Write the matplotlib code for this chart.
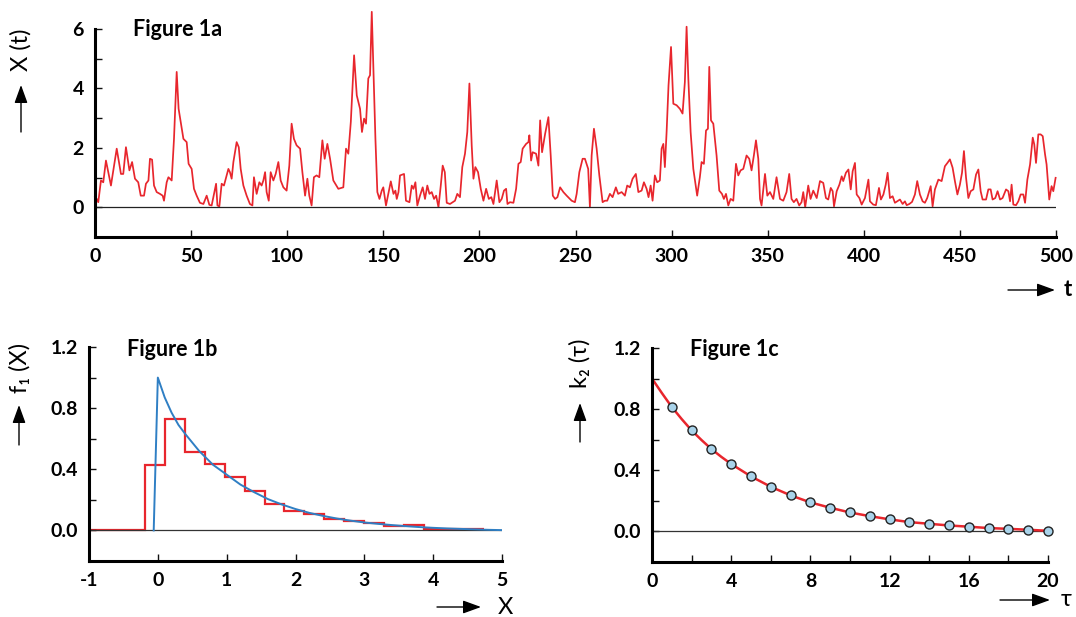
import matplotlib
import matplotlib.pyplot as plt
import numpy as np
from matplotlib.ticker import FormatStrFormatter, MultipleLocator

matplotlib.use("Agg")

W, H = 1076, 617
RED = "#e8262d"
BLUE = "#2f7fc4"
DOT_FILL = "#a9d3ea"

# Figure 1a: sample path X(t) as (t, X) points
SERIES_1A = [
    (0, 0.35), (0.9, 0.28), (1.7, 0.17), (3.1, 0.9), (4.3, 0.84), (5.7, 1.57), (6.9, 1.18), (8.3, 0.73),
    (11.3, 1.97), (13.5, 1.12), (14.7, 1.12), (16.1, 2.02), (17.9, 1.24), (19.3, 1.52), (20.8, 0.96),
    (22.5, 0.84), (23.8, 0.39), (25.5, 0.39), (26.5, 0.79), (27.8, 0.9), (28.6, 1.63), (29.7, 1.6),
    (30.7, 0.73), (32.1, 0.51), (33.8, 0.45), (35.2, 0.39), (35.9, 0.22), (37.3, 0.84), (38.2, 1.01),
    (39.9, 0.9), (41.1, 2.3), (42.5, 4.55), (43.5, 3.31), (44.6, 2.87), (46.0, 2.3), (47.7, 2.19),
    (48.7, 1.46), (50.3, 1.29), (51.5, 0.62), (52.9, 0.39), (54.6, 0.15), (56.4, 0.11), (58.1, 0.39),
    (59.5, 0.08), (60.7, 0.06), (63.0, 0.79), (63.7, 0.06), (64.7, 0.03), (65.9, 0.79), (67.1, 0.73),
    (69.4, 1.29), (70.2, 1.18), (71.1, 0.96), (72.0, 1.52), (73.7, 2.19), (74.8, 2.02), (75.8, 1.29),
    (77.2, 0.73), (78.9, 0.39), (80.6, 0.11), (81.9, 0.06), (82.7, 1.01), (84.1, 0.45), (85.5, 0.84),
    (86.7, 0.73), (87.6, 0.9), (88.5, 1.18), (89.3, 0.51), (90.4, 0.22), (91.4, 1.18), (92.8, 0.9),
    (94.0, 1.12), (95.4, 1.52), (96.6, 0.9), (98.0, 0.67), (99.7, 0.56), (101.1, 1.4), (102.3, 2.81),
    (103.5, 2.3), (104.9, 2.08), (106.7, 1.97), (107.9, 1.18), (109.3, 0.39), (110.5, 0.96),
    (111.5, 0.39), (112.7, 0.06), (113.9, 1.01), (115.3, 1.07), (116.7, 1.01), (118.3, 2.25),
    (119.5, 1.63), (120.9, 2.13), (122.3, 1.63), (124.0, 0.9),
    (126.6, 0.62), (129.2, 0.67), (130.6, 1.97), (131.8, 1.8), (133.1, 2.87), (134.8, 5.11),
    (136.2, 3.76), (137.9, 3.31), (138.9, 2.53), (140.0, 2.98), (141.0, 2.81), (142.2, 4.33),
    (143.1, 4.44), (144.0, 6.57), (144.8, 4.78), (145.9, 2.3), (146.9, 0.51), (148.0, 0.28),
    (149.2, 0.56), (150.0, 0.67), (151.4, 0.06), (152.6, 0.45), (153.9, 0.87), (155.3, 0.45),
    (156.3, 0.56), (157.0, 0.28), (157.9, 0.51), (158.7, 1.07), (160.8, 1.12), (161.8, 0.22),
    (163.6, 0.17), (164.8, 0.73), (165.7, 0.62), (166.7, 0.84), (167.7, 0.06), (169.1, 0.39),
    (170.5, 0.67), (171.7, 0.28), (172.9, 0.73), (174.0, 0.45), (175.2, 0.51), (176.4, 0.28),
    (177.5, 0.39), (178.7, 0.0), (179.9, 0.73), (180.9, 1.4), (182.0, 1.18), (183.0, 0.15),
    (184.7, 0.11), (186.1, 0.17), (187.3, 0.22), (188.5, 0.45), (189.9, 0.34), (191.1, 1.35),
    (192.5, 1.8), (193.7, 2.53), (194.8, 4.16), (196.0, 2.08), (196.9, 0.96), (197.9, 1.35),
    (199.3, 1.18), (200.7, 0.62), (202.1, 0.22), (203.5, 0.62), (204.9, 0.28), (206.2, 0.34),
    (207.3, 0.11), (209.0, 0.9), (210.4, 0.17), (211.6, 0.28), (212.8, 0.56), (213.9, 0.62),
    (214.6, 0.11), (215.9, 0.17), (217.7, 0.15), (219.1, 0.62), (220.3, 1.46), (221.5, 1.52),
    (222.5, 1.97), (224.3, 2.13), (225.5, 2.19), (226.0, 2.42), (226.9, 1.57), (227.7, 1.85),
    (229.5, 1.8), (230.7, 1.4), (231.6, 2.92), (232.6, 1.85), (234.2, 2.47), (235.9, 3.03),
    (237.1, 1.74), (238.2, 0.39), (239.4, 0.28), (240.6, 0.34), (242.0, 0.67), (243.7, 0.51),
    (245.4, 0.39), (246.8, 0.3), (248.0, 0.22),
    (249.7, 0.17), (250.6, 0.45), (252.0, 1.18), (253.7, 1.63), (254.9, 1.63), (256.6, 1.29),
    (257.5, 0.0), (258.4, 1.74), (259.6, 2.64), (261.0, 1.97), (262.4, 1.07), (264.1, 0.17),
    (265.3, 0.22), (266.5, 0.22), (267.9, 0.45), (269.3, 0.34), (271.0, 0.67), (272.2, 0.45),
    (274.0, 0.51), (275.7, 0.39), (276.9, 0.73), (278.3, 0.67), (279.7, 0.96), (281.4, 1.12),
    (282.7, 0.51), (284.4, 0.56), (285.6, 0.84), (287.0, 0.62), (288.0, 0.34), (289.1, 0.73),
    (290.1, 0.22), (291.3, 1.07), (292.5, 0.84), (293.9, 0.9), (294.8, 1.97), (295.7, 2.13),
    (296.5, 1.35), (297.4, 2.53), (298.4, 4.1), (299.7, 5.39), (300.9, 3.48), (302.6, 3.43),
    (304.3, 3.31), (305.7, 3.15), (306.9, 4.21), (307.8, 6.07), (308.7, 4.33), (309.9, 2.53),
    (311.3, 1.29), (313.3, 0.39), (314.7, 1.01), (315.6, 1.52), (316.8, 1.46), (317.9, 2.58),
    (318.9, 2.64), (319.6, 4.72), (320.5, 2.92), (321.7, 2.81), (323.4, 1.74), (324.8, 0.56),
    (326.2, 0.45), (327.2, 0.28), (328.3, 0.45), (329.5, 0.06), (330.7, 0.28), (332.1, 0.22),
    (333.5, 1.46), (334.7, 1.07), (335.9, 1.24), (337.3, 1.29), (339.0, 1.74), (340.4, 1.63),
    (341.6, 1.24), (342.8, 1.74), (343.9, 2.25), (345.1, 1.63), (346.0, 0.28), (346.8, 0.06),
    (348.6, 1.12), (349.8, 0.39), (351.2, 0.51), (352.9, 0.28), (354.6, 1.01), (356.4, 0.28),
    (358.1, 0.22), (359.8, 0.51), (361.2, 1.12), (362.4, 0.28), (363.6, 0.17), (365.0, 0.28),
    (366.4, 0.06), (367.6, 0.17), (368.5, 0.51), (369.5, 0.0), (371.1, 0.73), (372.3, 0.28),
    (373.7, 0.56),
    (375.5, 0.31), (377.2, 0.88), (378.9, 0.82), (380.3, 0.31), (381.5, 0.26), (382.8, 0.65),
    (383.8, 0.54), (384.5, 0.03), (385.9, 0.54), (387.3, 0.76), (388.5, 1.04), (389.3, 0.88),
    (390.7, 1.16), (392.0, 1.27), (393.2, 0.6), (394.2, 1.21), (395.4, 1.49), (396.3, 0.43),
    (397.7, 0.31), (398.9, 0.09), (400.6, 0.31), (402.4, 0.93), (403.2, 0.2), (404.9, 0.09),
    (406.3, 0.07), (407.9, 0.65), (408.9, 0.26), (410.2, 0.43), (411.4, 0.76), (412.4, 1.16),
    (413.6, 0.31), (415.0, 0.37), (416.2, 0.15), (417.4, 0.2), (418.8, 0.26), (420.2, 0.11),
    (421.4, 0.2), (422.3, 0.07), (423.7, 0.11), (425.1, 0.18), (426.6, 0.43), (427.8, 0.88),
    (429.2, 0.43), (430.6, 0.2), (431.8, 0.15), (433.0, 0.31), (434.8, 0.71), (435.8, 0.03),
    (437.0, 0.6), (438.8, 0.93), (440.5, 0.88), (442.2, 1.38), (443.5, 1.49), (444.8, 1.61),
    (446.2, 1.33), (447.4, 0.88), (448.7, 0.43), (450.0, 0.76), (451.1, 1.16), (452.1, 1.89),
    (453.2, 0.99), (454.4, 0.31), (455.6, 0.54), (457.0, 0.6), (458.4, 1.1), (459.6, 1.27),
    (460.8, 0.54), (461.8, 0.26), (463.6, 0.26), (464.8, 0.6), (466.0, 0.6), (467.0, 0.26),
    (468.4, 0.31), (469.6, 0.54), (470.9, 0.26), (472.2, 0.31), (474.0, 0.6), (475.2, 0.54),
    (476.1, 0.2), (476.9, 0.76), (477.8, 0.09), (479.2, 0.07), (480.4, 0.2), (481.6, 0.43),
    (483.0, 0.43), (483.9, 0.15), (485.1, 0.93), (486.5, 1.44), (487.9, 2.34), (488.7, 2.11),
    (489.6, 1.49), (490.8, 2.45), (492.0, 2.45), (493.1, 2.39), (494.3, 1.78), (495.1, 1.44),
    (496.5, 0.26), (497.7, 0.71), (498.6, 0.54), (499.8, 0.99),
]

# Figure 1b: histogram (bin edges, heights) and density curve
HIST_EDGES = [-1.0, -0.19, 0.10, 0.39, 0.68, 0.97, 1.26, 1.55, 1.84, 2.13, 2.42, 2.71,
              3.00, 3.29, 3.58, 3.87, 4.16, 4.45, 4.74]
HIST_HEIGHTS = [0.0, 0.425, 0.73, 0.51, 0.435, 0.35, 0.255, 0.175, 0.125, 0.105, 0.075,
                0.06, 0.05, 0.026, 0.035, 0.012, 0.01, 0.008]
DENSITY_X = [-0.06, 0.0, 0.1, 0.2, 0.3, 0.4, 0.6, 0.8, 1.0, 1.2, 1.4, 1.6, 1.8, 2.0, 2.2, 2.4,
             2.6, 2.8, 3.0, 3.2, 3.4, 3.6, 3.8, 4.0, 4.2, 4.4, 4.6, 4.8, 5.0]
DENSITY_Y = [0.0, 1.0, 0.87, 0.77, 0.69, 0.63, 0.52, 0.43, 0.365, 0.30, 0.25, 0.205, 0.17,
             0.14, 0.115, 0.095, 0.078, 0.064, 0.052, 0.043, 0.035, 0.028, 0.022, 0.017,
             0.013, 0.010, 0.007, 0.004, 0.002]

# Figure 1c: autocorrelation points and fitted curve
TAU_POINTS = list(range(1, 21))
K2_POINTS = [0.814, 0.661, 0.539, 0.441, 0.36, 0.292, 0.236, 0.19, 0.155, 0.124, 0.10,
             0.079, 0.061, 0.05, 0.039, 0.031, 0.022, 0.017, 0.011, 0.004]
TAU_CURVE = [0, 0.5, 1, 1.5, 2, 2.5, 3, 3.5, 4, 5, 6, 7, 8, 9, 10, 11, 12, 13, 14, 15, 16,
             17, 18, 19, 20]
K2_CURVE = [1.0, 0.905, 0.814, 0.735, 0.661, 0.598, 0.539, 0.488, 0.441, 0.36, 0.292, 0.236,
            0.19, 0.155, 0.124, 0.10, 0.079, 0.061, 0.05, 0.039, 0.031, 0.022, 0.017, 0.011,
            0.004]


def fig_xy(x, y):
    return x / W, 1 - y / H


def add_axes_px(fig, left, top, right, bottom):
    return fig.add_axes([left / W, 1 - bottom / H, (right - left) / W, (bottom - top) / H])


def style_axes(ax, xmajor, ymajor, yminor, xminor=None):
    for side in ("top", "right"):
        ax.spines[side].set_visible(False)
    for side in ("left", "bottom"):
        ax.spines[side].set_linewidth(2.2)
    ax.xaxis.set_major_locator(MultipleLocator(xmajor))
    if xminor:
        ax.xaxis.set_minor_locator(MultipleLocator(xminor))
    ax.yaxis.set_major_locator(MultipleLocator(ymajor))
    ax.yaxis.set_minor_locator(MultipleLocator(yminor))
    ax.tick_params(which="both", direction="in", length=5, width=1.0, color="#111")
    ax.tick_params(which="major", labelsize=14, pad=8)
    for label in ax.get_xticklabels() + ax.get_yticklabels():
        label.set_fontweight("bold")


def arrow(ax, tail, tip):
    ax.annotate("", xy=fig_xy(*tip), xytext=fig_xy(*tail), xycoords="figure fraction",
                textcoords="figure fraction", annotation_clip=False,
                arrowprops=dict(arrowstyle="-|>,head_length=0.55,head_width=0.2",
                                mutation_scale=20, color="black", lw=1.0, shrinkA=0, shrinkB=0))


def main() -> None:
    plt.rcParams["font.family"] = ["Lato", "DejaVu Sans"]
    plt.rcParams["axes.unicode_minus"] = False
    fig = plt.figure(figsize=(W / 100, H / 100), dpi=100)

    # Figure 1a
    t_vals, x_vals = np.array(SERIES_1A).T
    ax_a = add_axes_px(fig, 95, 5, 1056, 237)
    ax_a.plot(t_vals, x_vals, color=RED, lw=1.25, clip_on=False)
    ax_a.axhline(0, color="#222", lw=0.9)
    ax_a.set_xlim(0, 500)
    ax_a.set_ylim(-1, 6.8)
    ax_a.spines["left"].set_bounds(-1, 6)
    style_axes(ax_a, 50, 2, 1)
    ax_a.set_yticks([0, 2, 4, 6])
    for label in ax_a.get_yticklabels():
        label.set_fontweight("bold")

    # Figure 1b
    ax_b = add_axes_px(fig, 89, 347, 502, 561)
    ax_b.axhline(0, color="#333", lw=0.9)
    ax_b.stairs(HIST_HEIGHTS, HIST_EDGES, color=RED, lw=1.6, baseline=None)
    ax_b.plot(DENSITY_X, DENSITY_Y, color=BLUE, lw=1.4)
    ax_b.set_xlim(-1, 5)
    ax_b.set_ylim(-0.2, 1.2)
    style_axes(ax_b, 1, 0.4, 0.2)
    ax_b.yaxis.set_major_formatter(FormatStrFormatter("%.1f"))

    # Figure 1c
    ax_c = add_axes_px(fig, 652, 348, 1048, 562)
    ax_c.axhline(0, color="#333", lw=0.9)
    ax_c.plot(TAU_CURVE, K2_CURVE, color=RED, lw=1.8)
    ax_c.plot(TAU_POINTS, K2_POINTS, "o", ms=6.5, mfc=DOT_FILL, mec="#222", mew=1.0, clip_on=False)
    ax_c.set_xlim(0, 20)
    ax_c.set_ylim(-0.2, 1.2)
    style_axes(ax_c, 4, 0.4, 0.2, xminor=2)
    ax_c.yaxis.set_major_formatter(FormatStrFormatter("%.1f"))

    # panel titles
    title_style = dict(fontsize=15.5, fontweight="bold", ha="left", va="center")
    fig.text(*fig_xy(133, 30), "Figure 1a", **title_style)
    fig.text(*fig_xy(127, 350), "Figure 1b", **title_style)
    fig.text(*fig_xy(690, 350), "Figure 1c", **title_style)

    # axis labels with arrows
    fig.text(*fig_xy(21, 50), "X (t)", rotation=90, fontsize=17, ha="center", va="center")
    arrow(ax_a, (21, 132), (21, 85))
    fig.text(*fig_xy(1068, 290), "t", fontsize=16, fontweight="bold", ha="center", va="center")
    arrow(ax_a, (1008, 290), (1055, 290))

    fig.text(*fig_xy(20, 368), "f\u2081 (X)", rotation=90, fontsize=17, ha="center", va="center")
    arrow(ax_b, (19, 445), (19, 405))
    fig.text(*fig_xy(505, 607), "X", fontsize=17, ha="center", va="center")
    arrow(ax_b, (437, 607), (481, 607))

    fig.text(*fig_xy(580, 363), "k\u2082 (\u03c4)", rotation=90, fontsize=17, ha="center", va="center")
    arrow(ax_c, (580, 442), (580, 403))
    fig.text(*fig_xy(1066, 600), "\u03c4", fontsize=17, ha="center", va="center")
    arrow(ax_c, (1000, 600), (1050, 600))

    fig.savefig("out.png", dpi=100)
    plt.close(fig)


if __name__ == "__main__":
    main()
